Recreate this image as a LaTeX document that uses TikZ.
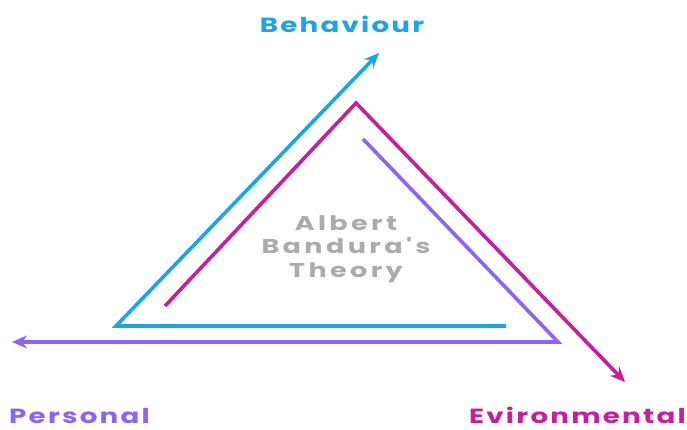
\documentclass[tikz,border=0pt]{standalone}
\usepackage{fontspec}
\setmainfont{Poppins}
\newfontfamily\lblfont[FakeStretch=1.35,LetterSpace=11]{Poppins}
\newfontfamily\thfont[FakeStretch=1.35,LetterSpace=17]{Poppins}
\usetikzlibrary{arrows.meta}
\definecolor{cblue}{HTML}{1AA6E6}
\definecolor{cmag}{HTML}{C4209E}
\definecolor{cpur}{HTML}{8E62F2}
\definecolor{cgray}{HTML}{ABABAB}
\tikzset{
  line/.style={line width=3.6pt, line join=miter},
  tip/.style={-{Stealth[length=15pt,width=13pt,inset=5pt]}},
  lbl/.style={font=\lblfont\bfseries\fontsize{20.5}{24}\selectfont, inner sep=0pt},
}
\begin{document}
\begin{tikzpicture}[x=1pt,y=-1pt]
\useasboundingbox (0,0) rectangle (687,430);
% coordinates
\coordinate (b1) at (506,326);
\coordinate (b2) at (116,326);
\coordinate (b3) at (379,53);
\coordinate (m1) at (165,306);
\coordinate (m2) at (356,103);
\coordinate (m3) at (625,382);
\coordinate (p1) at (363,139);
\coordinate (p2) at (558,342);
\coordinate (p3) at (12,342);
\draw[line, cblue, tip] (b1) -- (b2) -- (b3);
\draw[line, cmag, tip] (m1) -- (m2) -- (m3);
\draw[line, cpur, tip] (p1) -- (p2) -- (p3);
\node[lbl, text=cblue] (beh) at (342,24) {Behaviour};
\node[lbl, text=cpur, anchor=base west] (per) at (9,423) {Personal};
\node[lbl, text=cmag, anchor=base east] (env) at (686,423) {Evironmental};
\node[font=\thfont\bfseries\fontsize{20}{23.5}\selectfont, text=cgray, align=center, inner sep=0pt] (th) at (346,249) {Albert\\Bandura's\\Theory};
\end{tikzpicture}
\end{document}
